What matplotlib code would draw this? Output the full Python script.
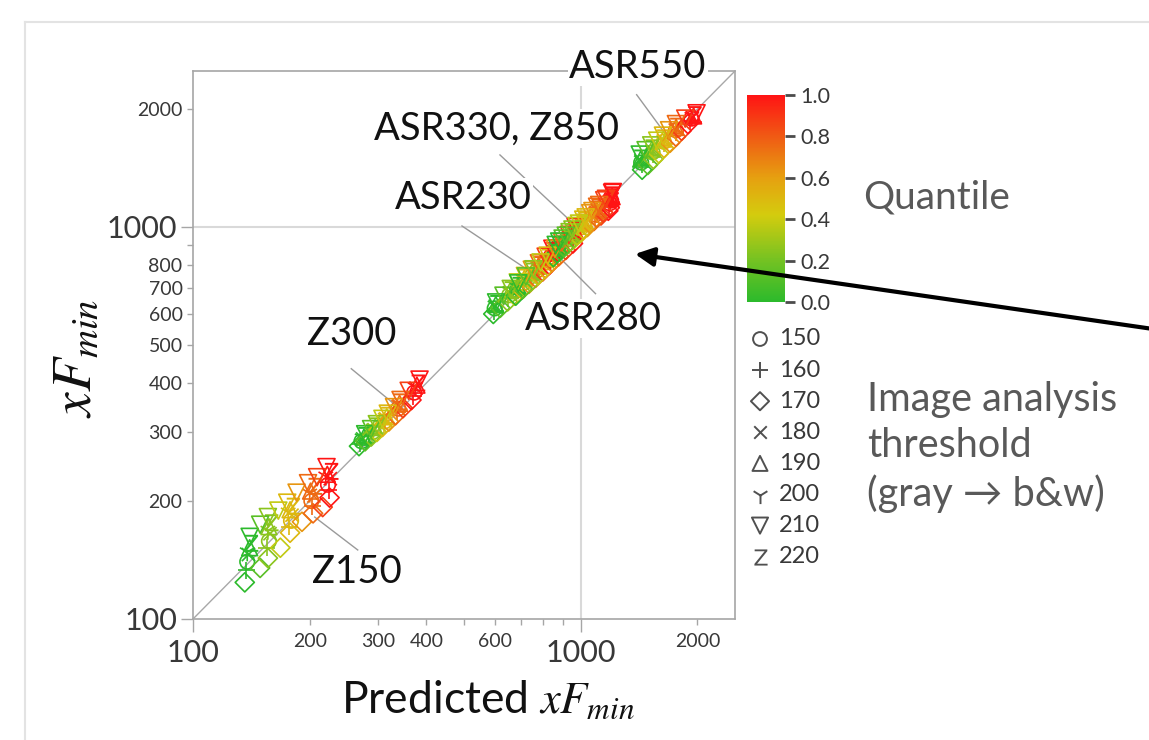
import matplotlib
matplotlib.use("Agg")
import matplotlib.pyplot as plt
from matplotlib.colors import LinearSegmentedColormap, Normalize
from matplotlib.cm import ScalarMappable
from matplotlib.patches import FancyArrowPatch
from matplotlib.lines import Line2D
from matplotlib.ticker import FixedLocator, FixedFormatter, NullLocator
from matplotlib.textpath import TextPath
from matplotlib.font_manager import FontProperties
from matplotlib.path import Path

plt.rcParams["font.family"] = ["Lato", "DejaVu Sans"]
plt.rcParams["mathtext.fontset"] = "stix"

# ---------------------------------------------------------------- data
# quantiles for the two outer thresholds (170 = diamonds, 210 = down-triangles)
EDGE_Q = [0.0, 0.125, 0.25, 0.375, 0.5, 0.625, 0.75, 0.875, 1.0]
# remaining thresholds, five quantiles each (lists are threshold-major, quantile-minor)
MID_THR = [150, 160, 180, 190, 200, 220]
MID_Q = [0.0, 0.25, 0.5, 0.75, 1.0]
LEGEND_THR = [150, 160, 170, 180, 190, 200, 210, 220]

z150_dia_x = [136, 149, 156, 168, 178, 191, 204, 216, 225]
z150_dia_y = [124, 135, 143, 152, 166, 177, 186, 193, 204]
z150_tri_x = [140, 149, 156, 166, 175, 185, 198, 209, 221]
z150_tri_y = [162, 174, 182, 189, 198, 210, 222, 230, 244]
z150_mid_x = [138, 157, 179, 202, 223,  137, 155, 177, 203, 224,  139, 158, 180, 205, 226,
              140, 157, 178, 201, 222,  138, 156, 176, 200, 220,  141, 159, 181, 206, 227]
z150_mid_y = [140, 158, 178, 200, 220,  133, 152, 172, 194, 213,  146, 165, 184, 206, 228,
              152, 172, 190, 212, 234,  148, 168, 187, 209, 231,  156, 176, 194, 218, 238]

z300_dia_x = [268, 278, 288, 298, 308, 320, 333, 348, 366]
z300_dia_y = [276, 284, 292, 300, 309, 319, 331, 345, 362]
z300_tri_x = [278, 288, 298, 308, 318, 330, 343, 360, 384]
z300_tri_y = [296, 305, 314, 324, 334, 347, 362, 382, 408]
z300_mid_x = [272, 291, 312, 338, 372,  270, 290, 310, 336, 370,  274, 293, 314, 340, 376,
              276, 295, 316, 341, 378,  273, 292, 313, 339, 374,  277, 297, 317, 342, 380]
z300_mid_y = [284, 300, 319, 344, 378,  280, 296, 314, 338, 370,  288, 304, 324, 350, 388,
              291, 308, 328, 355, 395,  289, 306, 326, 352, 390,  294, 311, 331, 358, 400]

asr230_dia_x = [595, 620, 648, 675, 705, 735, 765, 798, 830]
asr230_dia_y = [600, 622, 646, 668, 692, 716, 742, 770, 800]
asr230_tri_x = [605, 632, 660, 688, 718, 748, 780, 812, 845]
asr230_tri_y = [642, 668, 695, 722, 750, 778, 808, 840, 880]
asr230_mid_x = [600, 654, 711, 772, 837,  598, 651, 708, 768, 833,  602, 656, 713, 775, 840,
                604, 658, 716, 778, 842,  601, 655, 712, 774, 838,  606, 660, 718, 780, 845]
asr230_mid_y = [620, 670, 720, 775, 840,  610, 658, 706, 758, 820,  628, 680, 730, 786, 852,
                634, 688, 740, 796, 865,  630, 684, 734, 790, 858,  638, 692, 745, 802, 872]

asr280_dia_x = [680, 710, 742, 775, 808, 842, 878, 915, 955]
asr280_dia_y = [668, 696, 724, 752, 782, 812, 842, 874, 908]
asr280_tri_x = [690, 722, 755, 788, 822, 858, 895, 932, 970]
asr280_tri_y = [718, 748, 780, 812, 845, 880, 916, 955, 1000]
asr280_mid_x = [685, 748, 815, 886, 962,  682, 745, 811, 882, 958,  687, 750, 818, 890, 965,
                690, 752, 820, 892, 968,  686, 749, 816, 888, 963,  692, 754, 822, 894, 970]
asr280_mid_y = [690, 750, 812, 878, 948,  680, 738, 798, 862, 930,  698, 760, 824, 890, 962,
                705, 768, 832, 900, 975,  700, 764, 826, 895, 968,  710, 772, 838, 906, 985]

asr330_dia_x = [850, 885, 922, 960, 1000, 1040, 1082, 1128, 1178]
asr330_dia_y = [838, 868, 900, 932, 966, 1000, 1036, 1070, 1100]
asr330_tri_x = [862, 898, 936, 975, 1015, 1058, 1102, 1150, 1205]
asr330_tri_y = [900, 934, 970, 1006, 1044, 1084, 1126, 1170, 1222]
asr330_mid_x = [855, 929, 1006, 1092, 1188,  852, 925, 1002, 1087, 1182,  858, 931, 1010, 1095, 1192,
                860, 934, 1012, 1098, 1196,  856, 930, 1007, 1093, 1190,  862, 936, 1015, 1100, 1200]
asr330_mid_y = [862, 930, 1000, 1076, 1150,  850, 916, 985, 1058, 1130,  872, 942, 1014, 1090, 1166,
                880, 950, 1024, 1102, 1182,  875, 946, 1018, 1096, 1174,  886, 956, 1030, 1110, 1195]

z850_dia_x = [870, 905, 940, 978, 1016, 1056, 1098, 1142, 1188]
z850_dia_y = [858, 888, 920, 952, 986, 1020, 1056, 1090, 1120]
z850_tri_x = [880, 915, 952, 990, 1030, 1072, 1116, 1162, 1210]
z850_tri_y = [918, 950, 985, 1020, 1058, 1098, 1138, 1180, 1228]
z850_mid_x = [874, 946, 1022, 1106, 1198,  872, 943, 1018, 1102, 1192,  876, 948, 1025, 1109, 1202,
              878, 950, 1027, 1112, 1205,  875, 947, 1023, 1108, 1200,  880, 952, 1029, 1114, 1208]
z850_mid_y = [880, 948, 1018, 1094, 1168,  870, 936, 1004, 1078, 1148,  888, 956, 1028, 1106, 1182,
              895, 964, 1036, 1116, 1195,  890, 959, 1031, 1110, 1188,  900, 970, 1044, 1124, 1208]

asr550_dia_x = [1440, 1490, 1540, 1590, 1640, 1700, 1760, 1820, 1890]
asr550_dia_y = [1400, 1440, 1490, 1540, 1590, 1640, 1700, 1760, 1830]
asr550_tri_x = [1420, 1470, 1520, 1575, 1630, 1690, 1760, 1860, 1990]
asr550_tri_y = [1530, 1570, 1615, 1660, 1710, 1765, 1830, 1890, 1950]
asr550_mid_x = [1432, 1532, 1638, 1760, 1930,  1435, 1536, 1640, 1758, 1910,  1430, 1530, 1636, 1762, 1940,
                1428, 1527, 1634, 1762, 1955,  1433, 1531, 1637, 1759, 1935,  1425, 1525, 1633, 1764, 1965]
asr550_mid_y = [1460, 1550, 1650, 1765, 1890,  1440, 1530, 1630, 1745, 1860,  1475, 1565, 1665, 1780, 1905,
                1490, 1580, 1676, 1795, 1920,  1480, 1570, 1668, 1787, 1910,  1500, 1592, 1688, 1808, 1935]

X_TICKS = [100, 200, 300, 400, 500, 600, 700, 800, 900, 1000, 2000]
X_LABELS = ["100", "200", "300", "400", "", "600", "", "", "", "1000", "2000"]
Y_TICKS = [100, 200, 300, 400, 500, 600, 700, 800, 900, 1000, 2000]
Y_LABELS = ["100", "200", "300", "400", "500", "600", "700", "800", "", "1000", "2000"]
CB_TICKS = [0.0, 0.2, 0.4, 0.6, 0.8, 1.0]

samples = [
    (z150_dia_x, z150_dia_y, z150_tri_x, z150_tri_y, z150_mid_x, z150_mid_y),
    (z300_dia_x, z300_dia_y, z300_tri_x, z300_tri_y, z300_mid_x, z300_mid_y),
    (asr230_dia_x, asr230_dia_y, asr230_tri_x, asr230_tri_y, asr230_mid_x, asr230_mid_y),
    (asr280_dia_x, asr280_dia_y, asr280_tri_x, asr280_tri_y, asr280_mid_x, asr280_mid_y),
    (asr330_dia_x, asr330_dia_y, asr330_tri_x, asr330_tri_y, asr330_mid_x, asr330_mid_y),
    (z850_dia_x, z850_dia_y, z850_tri_x, z850_tri_y, z850_mid_x, z850_mid_y),
    (asr550_dia_x, asr550_dia_y, asr550_tri_x, asr550_tri_y, asr550_mid_x, asr550_mid_y),
]

# ---------------------------------------------------------------- style
# sans-serif "Z" glyph as a marker path, centred on the point
_zp = TextPath((0, 0), "Z", prop=FontProperties(family="DejaVu Sans"))
_zv = _zp.vertices.copy()
_zv[:, 0] -= (_zv[:, 0].min() + _zv[:, 0].max()) / 2
_zv[:, 1] -= (_zv[:, 1].min() + _zv[:, 1].max()) / 2
Z_MARKER = Path(_zv, _zp.codes)

MARKERS = {150: "o", 160: "+", 170: "D", 180: "x", 190: "^", 200: "1", 210: "v", 220: Z_MARKER}
SIZES = {150: 110, 160: 150, 170: 95, 180: 90, 190: 130, 200: 170, 210: 150, 220: 150}

cmap = LinearSegmentedColormap.from_list(
    "quant",
    [(0.0, "#2cba2c"), (0.2, "#74c222"), (0.42, "#d4cc0e"),
     (0.6, "#e6a010"), (0.8, "#f05a14"), (1.0, "#ff1414")])

W, H = 1149, 740
fig = plt.figure(figsize=(W / 100, H / 100), dpi=100)
fig.patch.set_facecolor("white")


def fx(px):
    return px / W


def fy(py):
    return 1 - py / H


def draw(axis, x, y, thr, cols, scale=1.0, z=3, lw=1.2):
    m = MARKERS[thr]
    s = SIZES[thr] * scale
    if isinstance(m, Path):
        axis.scatter(x, y, s=s, marker=m, c=cols, linewidths=0, zorder=z, clip_on=False)
    elif m in ("o", "D", "^", "v"):
        axis.scatter(x, y, s=s, marker=m, facecolors="none", edgecolors=cols,
                     linewidths=lw, zorder=z, clip_on=False)
    else:
        axis.scatter(x, y, s=s, marker=m, c=cols, linewidths=lw, zorder=z, clip_on=False)


ax = fig.add_axes([fx(193), fy(619), (735 - 193) / W, (619 - 71) / H])
ax.set_xscale("log")
ax.set_yscale("log")
ax.set_xlim(100, 2500)
ax.set_ylim(100, 2500)

# reference lines
ax.axvline(1000, color="#d9d9d9", lw=1.5, zorder=0.5)
ax.axhline(1000, color="#d9d9d9", lw=1.5, zorder=0.5)
ax.plot([100, 2500], [100, 2500], color="#a8a8a8", lw=1.0, zorder=1)

# data: middle thresholds first, then diamonds (170), then down-triangles (210)
for ti, thr in enumerate(MID_THR):
    xs, ys, cs = [], [], []
    for smp in samples:
        mx, my = smp[4], smp[5]
        for qi, q in enumerate(MID_Q):
            k = ti * len(MID_Q) + qi
            xs.append(mx[k]); ys.append(my[k]); cs.append(cmap(q))
    draw(ax, xs, ys, thr, cs)

for thr, ix, iy in [(170, 0, 1), (210, 2, 3)]:
    xs, ys, cs = [], [], []
    for smp in samples:
        for k, q in enumerate(EDGE_Q):
            xs.append(smp[ix][k]); ys.append(smp[iy][k]); cs.append(cmap(q))
    draw(ax, xs, ys, thr, cs)

# axes styling
for sp in ax.spines.values():
    sp.set_color("#a6a6a6")
    sp.set_linewidth(1.2)
ax.xaxis.set_major_locator(FixedLocator(X_TICKS))
ax.xaxis.set_major_formatter(FixedFormatter(X_LABELS))
ax.yaxis.set_major_locator(FixedLocator(Y_TICKS))
ax.yaxis.set_major_formatter(FixedFormatter(Y_LABELS))
ax.xaxis.set_minor_locator(NullLocator())
ax.yaxis.set_minor_locator(NullLocator())
ax.tick_params(axis="both", which="major", length=4.5, width=1.0, color="#a6a6a6",
               labelcolor="#383838", labelsize=14, pad=3)
ax.tick_params(axis="x", pad=5.5)

for val, tk in zip(X_TICKS, ax.xaxis.get_major_ticks()):
    if val in (100, 1000):
        tk.set_pad(10)
        tk.tick1line.set_markersize(9)
        tk.label1.set_fontsize(22)
for val, tk in zip(Y_TICKS, ax.yaxis.get_major_ticks()):
    if val in (100, 1000):
        tk.set_pad(7)
        tk.tick1line.set_markersize(9)
        tk.label1.set_fontsize(22)

ax.set_xlabel(r"Predicted $xF_{min}$", fontsize=32, color="#111111", va="center")
ax.xaxis.set_label_coords((488 - 193) / 542, (619 - 700) / 548)
ax.set_ylabel(r"$xF_{min}$", fontsize=40, color="#111111", va="center")
ax.yaxis.set_label_coords((75 - 193) / 542, (619 - 358) / 548)

# annotations (label text, text centre, leader start, leader end) in data units
annotations = [
    ("ASR550", (1404, 2566), (1394, 2175), (1622, 1773)),
    ("ASR330, Z850", (607, 1785), (619, 1527), (944, 1033)),
    ("ASR230", (497, 1186), (494, 1006), (718, 786)),
    ("ASR280", (1081, 583), (1092, 676), (873, 844)),
    ("Z300", (257, 534), (256, 435), (332, 352)),
    ("Z150", (264, 132), (266, 150), (206, 182)),
]
for label, tpos, p0, p1 in annotations:
    ax.plot([p0[0], p1[0]], [p0[1], p1[1]], color="#9a9a9a", lw=1.0, zorder=2)
    ax.text(tpos[0], tpos[1], label, fontsize=27.5, color="#111111", ha="center",
            va="center", zorder=6, clip_on=False,
            bbox=dict(facecolor="white", edgecolor="none", pad=1.0))

# colour bar
cax = fig.add_axes([fx(747), fy(302), 38 / W, (302 - 95) / H])
cb = fig.colorbar(ScalarMappable(norm=Normalize(0, 1), cmap=cmap), cax=cax)
cb.outline.set_visible(False)
cb.set_ticks(CB_TICKS)
cb.set_ticklabels([f"{t:.1f}" for t in CB_TICKS])
cax.tick_params(length=7, width=2, pad=4, labelsize=15.5, labelcolor="#383838")
for val, tk in zip(CB_TICKS, cax.yaxis.get_major_ticks()):
    tk.tick2line.set_color(cmap(val))
    tk.tick2line.set_alpha(0.7)

fig.text(fx(863), fy(198), "Quantile", fontsize=28, color="#595959", ha="left", va="center")

# marker legend
lax = fig.add_axes([fx(745), fy(575), 100 / W, 250 / H])
lax.set_xlim(745, 845)
lax.set_ylim(575, 325)
lax.axis("off")
for i, thr in enumerate(LEGEND_THR):
    yrow = 339 + 31.1 * i
    draw(lax, [760], [yrow], thr, ["#505050"], scale=0.9, z=3, lw=1.4)
    lax.text(779, yrow, str(thr), fontsize=17, color="#383838", ha="left", va="center")

fig.text(fx(867), fy(447), "Image analysis\nthreshold\n(gray \u2192 b&w)", fontsize=28.5,
         color="#595959", ha="left", va="center", linespacing=1.3)

# arrow
arrow = FancyArrowPatch((fx(1160), fy(330)), (fx(635), fy(254)), transform=fig.transFigure,
                        arrowstyle="-|>,head_length=0.8,head_width=0.4", mutation_scale=14,
                        lw=3.0, color="black", shrinkA=0, shrinkB=0, zorder=20)
fig.add_artist(arrow)

# faint slide border
fig.add_artist(Line2D([fx(25), fx(1149)], [fy(22), fy(22)], transform=fig.transFigure,
                      color="#e3e3e3", lw=1.5))
fig.add_artist(Line2D([fx(25), fx(25)], [fy(22), fy(740)], transform=fig.transFigure,
                      color="#e3e3e3", lw=1.5))

fig.savefig("out.png", dpi=100, facecolor="white")
